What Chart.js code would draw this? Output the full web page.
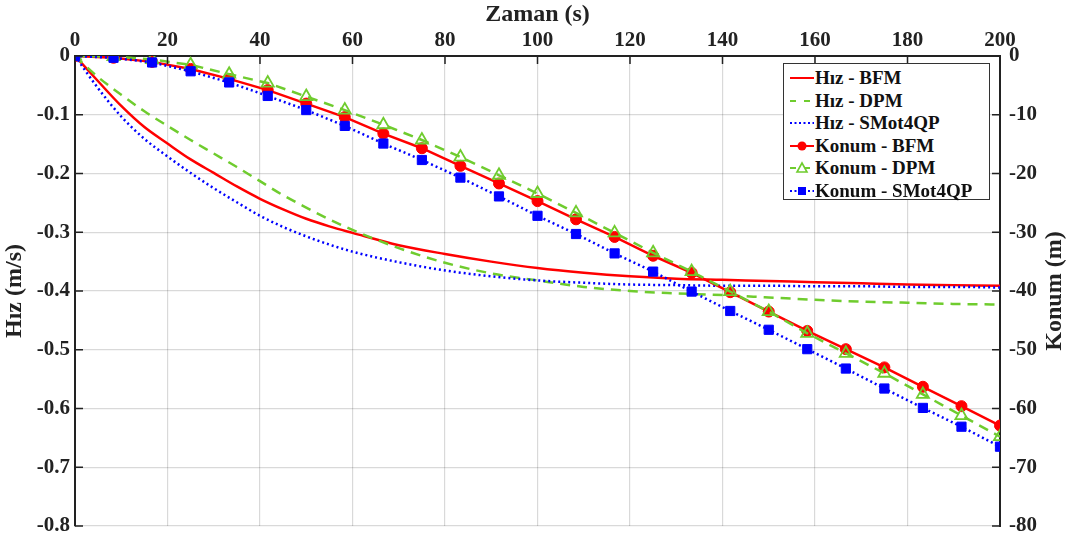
<!DOCTYPE html>
<html>
<head>
<meta charset="utf-8">
<script src="https://cdn.jsdelivr.net/npm/chart.js@4.4.1/dist/chart.umd.min.js"></script>
<style>
  body { margin: 0; background: #fff; }
  #wrap { position: relative; width: 1071px; height: 544px; }
  #legend { position: absolute; left: 783px; top: 63px; width: 205px; height: 132px; padding-top: 3px;
    border: 1.5px solid #333; background: #fff; font: bold 19px "Liberation Serif", serif; color: #111; }
  #legend .row { height: 22.5px; line-height: 22.5px; white-space: nowrap; }
  #legend svg { vertical-align: middle; margin: -3px 1px 0 6px; }
</style>
</head>
<body>
<div id="wrap">
  <canvas id="zaman" width="1071" height="544"></canvas>
  <div id="legend"></div>
</div>
<script>
// hiz (m/s), sampled every few seconds
var vTime = [0, 5, 10, 15, 20, 25, 30, 35, 40, 45, 50, 55, 60, 70, 80, 90, 100, 110, 120, 130, 140, 150, 160, 170, 180, 190, 200];
var vBFM = [0, -0.043, -0.085, -0.121, -0.149, -0.176, -0.199, -0.222, -0.243, -0.261, -0.277, -0.290, -0.301, -0.322, -0.337, -0.350, -0.361, -0.369, -0.375, -0.379, -0.381, -0.383, -0.385, -0.387, -0.389, -0.390, -0.391];
var vDPM = [0, -0.036, -0.066, -0.094, -0.119, -0.143, -0.166, -0.189, -0.213, -0.237, -0.258, -0.278, -0.296, -0.327, -0.352, -0.370, -0.382, -0.393, -0.400, -0.404, -0.407, -0.411, -0.415, -0.418, -0.420, -0.422, -0.423];
var vSMot = [0, -0.055, -0.103, -0.141, -0.171, -0.199, -0.225, -0.249, -0.272, -0.291, -0.307, -0.321, -0.333, -0.351, -0.365, -0.375, -0.382, -0.386, -0.389, -0.390, -0.391, -0.391, -0.392, -0.392, -0.393, -0.393, -0.394];

// konum (m), marker times
var pTime = [0, 8.33, 16.67, 25, 33.33, 41.67, 50, 58.33, 66.67, 75, 83.33, 91.67, 100, 108.33, 116.67, 125, 133.33, 141.67, 150, 158.33, 166.67, 175, 183.33, 191.67, 200];
var pBFM = [0, -0.3, -1.0, -2.2, -3.9, -5.8, -8.1, -10.4, -13.2, -15.7, -18.7, -21.7, -24.7, -27.8, -30.8, -34.0, -36.9, -40.2, -43.5, -46.8, -49.9, -53.0, -56.3, -59.6, -62.9];
var pDPM = [0, -0.1, -0.6, -1.5, -3.1, -4.6, -6.9, -9.2, -11.7, -14.3, -17.2, -20.3, -23.4, -26.7, -30.1, -33.5, -36.7, -40.1, -43.5, -47.2, -50.6, -54.0, -57.6, -61.2, -64.8];
var pSMot = [0, -0.3, -1.1, -2.6, -4.5, -6.8, -9.2, -11.9, -14.9, -17.7, -20.7, -23.9, -27.2, -30.3, -33.6, -36.7, -40.1, -43.4, -46.6, -49.9, -53.2, -56.6, -59.9, -63.1, -66.5];

var legendLabels = ['Hız - BFM', 'Hız - DPM', 'Hız - SMot4QP', 'Konum - BFM', 'Konum - DPM', 'Konum - SMot4QP'];

var RED = '#ff0000', GREEN = '#6fcc2e', BLUE = '#0000ff';
var FONT = '"Liberation Serif", "Times New Roman", serif';

Chart.defaults.font.family = FONT;
Chart.defaults.font.weight = 'bold';
Chart.defaults.font.size = 21;
Chart.defaults.color = '#222';

function pts(xs, ys) {
    return xs.map(function (x, i) { return { x: x, y: ys[i] }; });
}

// short ticks pointing into the plot, plus the right-hand title read bottom to top
var innerTicks = {
    id: 'innerTicks',
    afterDraw: function (chart) {
        var c = chart.ctx, a = chart.chartArea, L = 8;
        c.save();
        c.strokeStyle = '#222';
        c.lineWidth = 1.5;
        c.beginPath();
        chart.scales.x.ticks.forEach(function (t) {
            var px = chart.scales.x.getPixelForValue(t.value);
            c.moveTo(px, a.top); c.lineTo(px, a.top + L);
        });
        chart.scales.y.ticks.forEach(function (t) {
            var py = chart.scales.y.getPixelForValue(t.value);
            c.moveTo(a.left, py); c.lineTo(a.left + L, py);
        });
        chart.scales.y2.ticks.forEach(function (t) {
            var py = chart.scales.y2.getPixelForValue(t.value);
            c.moveTo(a.right, py); c.lineTo(a.right - L, py);
        });
        c.stroke();
        c.translate(1055, (a.top + a.bottom) / 2);
        c.rotate(-Math.PI / 2);
        c.font = 'bold 24px ' + FONT;
        c.fillStyle = '#222';
        c.textAlign = 'center';
        c.textBaseline = 'middle';
        c.fillText('Konum (m)', 0, 0);
        c.restore();
    }
};

var ctx = document.getElementById('zaman');
var myChart = new Chart(ctx, {
    type: 'line',
    data: {
        datasets: [
            { label: legendLabels[0], data: pts(vTime, vBFM), yAxisID: 'y', borderColor: RED, borderWidth: 2.5, pointRadius: 0, cubicInterpolationMode: 'monotone', order: 5 },
            { label: legendLabels[1], data: pts(vTime, vDPM), yAxisID: 'y', borderColor: GREEN, borderWidth: 2.5, borderDash: [10, 7], pointRadius: 0, cubicInterpolationMode: 'monotone', order: 4 },
            { label: legendLabels[2], data: pts(vTime, vSMot), yAxisID: 'y', borderColor: BLUE, borderWidth: 2.5, borderDash: [2, 3], pointRadius: 0, cubicInterpolationMode: 'monotone', order: 3 },
            { label: legendLabels[3], data: pts(pTime, pBFM), yAxisID: 'y2', borderColor: RED, backgroundColor: RED, borderWidth: 2.5, pointStyle: 'circle', pointRadius: 5.5, pointBorderWidth: 1, order: 2 },
            { label: legendLabels[4], data: pts(pTime, pDPM), yAxisID: 'y2', borderColor: GREEN, backgroundColor: 'rgba(0,0,0,0)', borderWidth: 2.5, borderDash: [10, 7], pointStyle: 'triangle', pointRadius: 7, pointBorderWidth: 1.8, order: 1 },
            { label: legendLabels[5], data: pts(pTime, pSMot), yAxisID: 'y2', borderColor: BLUE, backgroundColor: BLUE, borderWidth: 2.5, borderDash: [2, 3], pointStyle: 'rect', pointRadius: 6.5, pointBorderWidth: 1, order: 0 }
        ]
    },
    options: {
        responsive: false,
        animation: false,
        layout: { padding: { left: 0, right: 0, top: 0, bottom: 18 } },
        plugins: { legend: { display: false }, tooltip: { enabled: false } },
        scales: {
            x: {
                type: 'linear', position: 'top', min: 0, max: 200,
                ticks: { stepSize: 20, padding: 3 },
                grid: { color: 'rgba(0,0,0,0.15)', lineWidth: 1.2, drawTicks: false },
                border: { color: '#222', width: 2 },
                title: { display: true, text: 'Zaman (s)', font: { size: 24, weight: 'bold' }, padding: { top: 0, bottom: 0 } },
                afterFit: function (s) { s.height = 56; s.paddingLeft = 0; s.paddingRight = 0; }
            },
            y: {
                position: 'left', min: -0.8, max: 0,
                ticks: { stepSize: 0.1, padding: 5, callback: function (v) { return String(Math.round(v * 10) / 10); } },
                grid: { color: 'rgba(0,0,0,0.15)', lineWidth: 1.2, drawTicks: false },
                border: { color: '#222', width: 2 },
                title: { display: true, text: 'Hız (m/s)', font: { size: 24, weight: 'bold' }, padding: 0 },
                afterFit: function (s) { s.width = 75; s.paddingTop = 0; s.paddingBottom = 0; }
            },
            y2: {
                position: 'right', min: -80, max: 0,
                ticks: { stepSize: 10, padding: 9 },
                grid: { display: false, drawTicks: false },
                border: { color: '#222', width: 2 },
                afterFit: function (s) { s.width = 71; s.paddingTop = 0; s.paddingBottom = 0; }
            }
        }
    },
    plugins: [innerTicks]
});

// legend with line samples
var samples = [
    { c: RED, dash: '', mark: '' },
    { c: GREEN, dash: '6 8', mark: '' },
    { c: BLUE, dash: '2 2.5', mark: '' },
    { c: RED, dash: '', mark: 'circle' },
    { c: GREEN, dash: '6 8', mark: 'tri' },
    { c: BLUE, dash: '2 2.5', mark: 'rect' }
];
var lg = document.getElementById('legend');
legendLabels.forEach(function (lab, i) {
    var s = samples[i];
    var m = '';
    if (s.mark === 'circle') m = '<circle cx="12" cy="8" r="4.5" fill="' + s.c + '"/>';
    if (s.mark === 'tri') m = '<polygon points="12,3 17,12 7,12" fill="#fff" stroke="' + s.c + '" stroke-width="1.6"/>';
    if (s.mark === 'rect') m = '<rect x="8" y="4" width="8" height="8" fill="' + s.c + '"/>';
    var row = document.createElement('div');
    row.className = 'row';
    row.innerHTML = '<svg width="24" height="16"><line x1="0" y1="8" x2="24" y2="8" stroke="' + s.c +
        '" stroke-width="2" stroke-dasharray="' + s.dash + '"/>' + m + '</svg>' + lab;
    lg.appendChild(row);
});
</script>
</body>
</html>
